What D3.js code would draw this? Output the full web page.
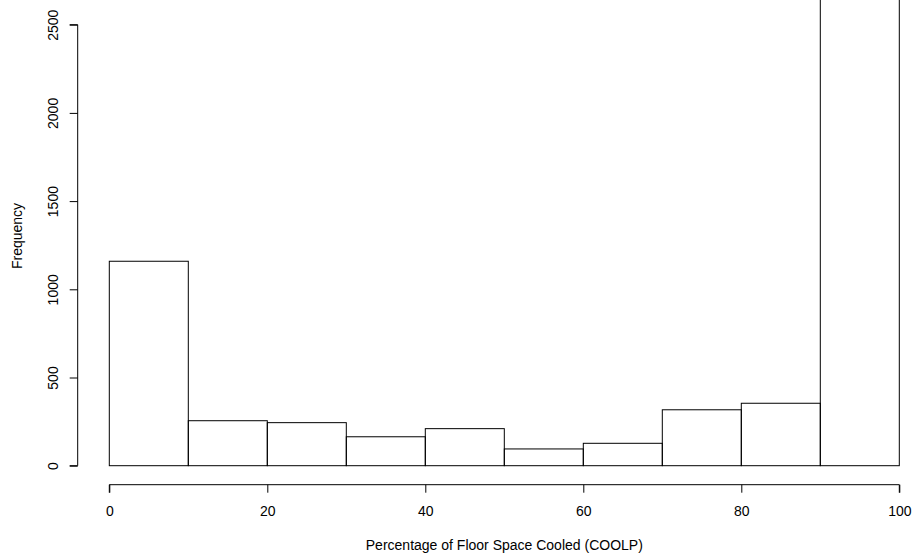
<!DOCTYPE html>
<html>
<head>
<meta charset="utf-8">
<script src="https://cdn.jsdelivr.net/npm/d3@7"></script>
<style>
  html, body { margin: 0; padding: 0; background: #fff; }
  svg { display: block; }
  text { font-family: "Liberation Sans", Arial, Helvetica, sans-serif; font-size: 14px; fill: #000; }
</style>
</head>
<body>
<svg id="chart" width="914" height="556"></svg>
<script>
// Histogram of COOLP: bins of width 10 from 0 to 100
const binStarts = [0, 10, 20, 30, 40, 50, 60, 70, 80, 90];
const binWidth = 10;
const counts = [1159, 255, 244, 164, 210, 95, 127, 317, 354, 2693];
const xTicks = [0, 20, 40, 60, 80, 100];
const yTicks = [0, 500, 1000, 1500, 2000, 2500];

const svg = d3.select("#chart");

// Plot region (base-graphics style, 4% padding on the y range)
const x = d3.scaleLinear().domain([0, 100]).range([109.3, 899.3]);
const y = d3.scaleLinear().domain([0, 2500]).range([465.7, 24.7]);

const axisY = 484.7;   // x axis sits at the bottom of the plot region
const axisX = 77.7;    // y axis sits at the left of the plot region

// Bars
svg.append("g")
  .selectAll("rect")
  .data(binStarts.map((s, i) => ({ s, c: counts[i] })))
  .join("rect")
  .attr("x", d => x(d.s))
  .attr("y", d => y(d.c))
  .attr("width", d => x(d.s + binWidth) - x(d.s))
  .attr("height", d => y(0) - y(d.c))
  .attr("fill", "none")
  .attr("stroke", "#000")
  .attr("stroke-width", 1);

// X axis
const gx = svg.append("g")
  .attr("transform", `translate(0,${axisY})`)
  .call(d3.axisBottom(x).tickValues(xTicks).tickSize(8).tickPadding(13).tickFormat(d3.format("d")));
gx.select(".domain").attr("stroke", "#000").attr("d", `M${x(0)},8V0H${x(100)}V8`);
gx.attr("font-family", null).attr("font-size", null);

// Y axis
const gy = svg.append("g")
  .attr("transform", `translate(${axisX},0)`)
  .call(d3.axisLeft(y).tickValues(yTicks).tickSize(8).tickFormat(d3.format("d")));
gy.select(".domain").attr("stroke", "#000").attr("d", `M-8,${y(2500)}H0V${y(0)}H-8`);
gy.selectAll(".tick text")
  .attr("x", null)
  .attr("text-anchor", "middle")
  .attr("transform", "translate(-25,0) rotate(-90)")
  .attr("dy", "0.35em");
gy.attr("font-family", null).attr("font-size", null);

// Axis titles
svg.append("text")
  .attr("x", x(50))
  .attr("y", 550)
  .attr("text-anchor", "middle")
  .text("Percentage of Floor Space Cooled (COOLP)");

svg.append("text")
  .attr("transform", "translate(22,236) rotate(-90)")
  .attr("text-anchor", "middle")
  .text("Frequency");
</script>
</body>
</html>
